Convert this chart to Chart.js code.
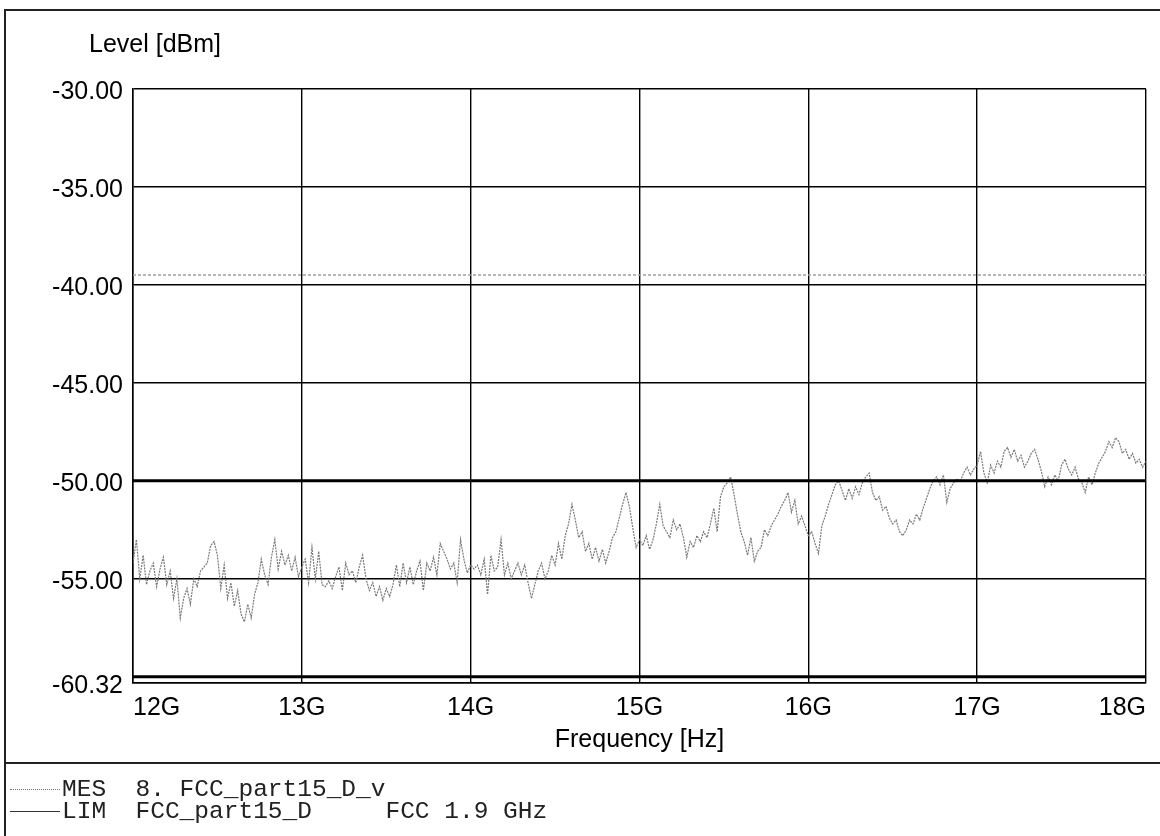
<!DOCTYPE html>
<html><head><meta charset="utf-8">
<script src="https://cdn.jsdelivr.net/npm/chart.js@4/dist/chart.umd.min.js"></script>
<style>
html,body{margin:0;padding:0;background:#fff;}
#wrap{position:relative;width:1160px;height:836px;overflow:hidden;background:#fff;}
#c{position:absolute;left:0;top:0;}
.ln{position:absolute;background:#222;}
.ytitle{position:absolute;left:89px;top:29px;font:25px 'Liberation Sans',Arial,sans-serif;color:#000;white-space:pre;}
.leg{position:absolute;font:24.5px 'Liberation Mono',monospace;color:#222;white-space:pre;line-height:24px;}
.samp{position:absolute;height:0;}
</style>
</head><body>
<div id="wrap">
<canvas id="c" width="1160" height="836"></canvas>
<div class="ln" style="left:5px;top:9px;width:1155px;height:2px;"></div>
<div class="ln" style="left:4px;top:9px;width:2px;height:827px;"></div>
<div class="ln" style="left:5px;top:762px;width:1155px;height:2px;"></div>
<div class="ytitle">Level [dBm]</div>
<div class="samp" style="left:10px;top:789px;width:50px;border-top:1px dotted #777;"></div>
<div class="samp" style="left:10px;top:811px;width:50px;border-top:1.5px solid #333;"></div>
<div class="leg" style="left:62px;top:778px;">MES  8. FCC_part15_D_v</div>
<div class="leg" style="left:62px;top:800px;">LIM  FCC_part15_D     FCC 1.9 GHz</div>
</div>
<script>
// Frequency sweep grid (GHz): 12.00 .. 18.00, 0.02 GHz spacing
const freqStartGHz = 12.0;
const freqStepGHz = 0.02;
const mesLevel = [
-54.2,-53.0,-55.0,-53.8,-55.3,-54.6,-54.2,-55.4,-54.5,-53.9,
-55.3,-54.6,-56.0,-55.0,-57.0,-56.0,-55.5,-56.3,-55.0,-55.4,
-54.6,-54.4,-54.2,-53.3,-53.1,-53.8,-55.5,-54.3,-56.0,-55.2,
-56.4,-55.6,-56.8,-57.2,-56.3,-57.0,-55.8,-55.2,-54.0,-54.8,
-55.3,-53.9,-53.0,-54.5,-53.6,-54.3,-53.8,-54.6,-53.9,-54.9,
-54.4,-54.0,-55.2,-53.4,-55.0,-53.6,-55.3,-55.4,-55.1,-55.5,
-54.9,-54.4,-55.6,-54.2,-54.8,-54.6,-55.2,-54.4,-53.8,-55.0,
-55.6,-55.2,-55.9,-55.4,-56.1,-55.5,-55.9,-55.3,-54.3,-55.4,
-54.2,-55.2,-54.4,-55.3,-54.6,-54.1,-55.6,-54.2,-54.6,-53.9,
-54.8,-53.2,-53.6,-54.0,-54.5,-54.2,-55.2,-53.0,-54.0,-54.7,
-54.3,-54.5,-54.3,-54.8,-54.0,-55.8,-53.8,-54.6,-54.4,-53.0,
-54.8,-54.2,-55.0,-54.6,-54.2,-54.8,-54.3,-55.2,-56.0,-55.3,
-54.6,-54.2,-55.0,-54.6,-53.8,-54.3,-53.2,-54.0,-52.8,-52.2,
-51.2,-52.0,-52.9,-52.6,-53.6,-53.2,-54.0,-53.4,-54.1,-53.5,
-54.2,-53.6,-52.9,-52.6,-51.9,-51.2,-50.6,-51.3,-52.4,-53.4,
-53.0,-53.3,-52.8,-53.5,-53.0,-52.2,-51.2,-52.3,-52.6,-52.9,
-52.0,-52.5,-52.2,-52.9,-53.9,-53.1,-53.4,-52.8,-53.1,-52.6,
-52.9,-52.2,-51.4,-52.6,-50.8,-50.3,-50.1,-49.8,-50.7,-51.7,
-52.6,-53.1,-53.8,-52.9,-54.1,-53.6,-53.4,-52.5,-52.8,-52.3,
-52.0,-51.7,-51.3,-51.0,-50.6,-51.6,-51.0,-52.2,-51.8,-52.3,
-52.8,-52.6,-53.2,-53.7,-52.3,-51.8,-51.2,-50.7,-50.2,-50.0,
-50.5,-51.0,-50.4,-50.9,-50.3,-50.7,-50.1,-49.8,-49.6,-50.6,
-51.0,-50.8,-51.5,-51.3,-51.9,-52.2,-52.0,-52.6,-52.8,-52.5,
-52.0,-52.2,-51.7,-52.0,-51.4,-50.9,-50.4,-50.0,-49.8,-50.2,
-49.7,-51.1,-50.4,-50.1,-49.9,-50.0,-49.6,-49.3,-49.7,-49.4,
-49.2,-48.5,-49.6,-50.1,-49.2,-49.6,-49.0,-49.3,-48.5,-48.3,
-48.8,-48.4,-49.0,-48.7,-49.3,-49.0,-48.6,-48.4,-48.9,-49.5,
-50.3,-49.8,-50.2,-49.7,-50.0,-49.2,-48.9,-49.4,-49.7,-49.3,
-49.9,-50.1,-50.6,-49.8,-50.2,-49.6,-49.1,-48.8,-48.5,-48.0,
-48.3,-47.8,-48.0,-48.6,-48.4,-48.9,-48.6,-49.1,-48.9,-49.3,
-49.0
];
// Limit line (dBm) at sweep ends
const limFreq = [12, 18];
const limLevel = [-50, -50];
const floorLevel = [-60, -60];
const upperTraceLevel = [-39.5, -39.5];
// Axis ticks
const yTicks = [-60.32, -55, -50, -45, -40, -35, -30];
const xTicks = [12, 13, 14, 15, 16, 17, 18];
const xTickLabels = ['12G', '13G', '14G', '15G', '16G', '17G', '18G'];

const freqGHz = [];
for (let i = 0; i < mesLevel.length; i++) freqGHz.push(+(freqStartGHz + i * freqStepGHz).toFixed(2));
const pts = (xs, ys) => xs.map((x, i) => ({x: x, y: ys[i]}));
const FONT = "'Liberation Sans', Arial, sans-serif";

new Chart(document.getElementById('c'), {
  type: 'line',
  data: {
    datasets: [
      {label: 'MES', data: pts(freqGHz, mesLevel), borderColor: '#7a7a7a', borderWidth: 1.2, borderDash: [2, 1], pointRadius: 0, tension: 0, order: 2},
      {label: 'LIM', data: pts(limFreq, limLevel), borderColor: '#000', borderWidth: 3, pointRadius: 0, order: 1},
      {label: 'floor', data: pts(limFreq, floorLevel), borderColor: '#000', borderWidth: 3, pointRadius: 0, order: 1},
      {label: 'upper', data: pts(limFreq, upperTraceLevel), borderColor: '#a0a0a0', borderWidth: 1.5, borderDash: [3, 2], pointRadius: 0, order: 3}
    ]
  },
  options: {
    responsive: false,
    animation: false,
    layout: {padding: {left: 0, top: 89, right: 14, bottom: 81}},
    plugins: {legend: {display: false}, tooltip: {enabled: false}, title: {display: false}},
    scales: {
      x: {
        type: 'linear', min: 12, max: 18,
        afterFit: s => { s.height = 72; },
        afterBuildTicks: s => { s.ticks = xTicks.map(v => ({value: v})); },
        grid: {color: '#000', lineWidth: 1.4, drawTicks: false},
        border: {color: '#000', width: 1.5},
        ticks: {
          align: 'inner', padding: 10, color: '#000', maxRotation: 0, autoSkip: false,
          font: {family: FONT, size: 25},
          callback: (v) => xTickLabels[xTicks.indexOf(v)]
        },
        title: {display: true, text: 'Frequency [Hz]', color: '#000', padding: {top: 0, bottom: 0},
          font: {family: FONT, size: 25}}
      },
      y: {
        min: -60.32, max: -30,
        afterFit: s => { s.width = 133; },
        afterBuildTicks: s => { s.ticks = yTicks.map(v => ({value: v})); },
        grid: {color: '#000', lineWidth: 1.4, drawTicks: false},
        border: {color: '#000', width: 1.5},
        ticks: {
          padding: 10, labelOffset: 3, color: '#000', autoSkip: false,
          font: {family: FONT, size: 25},
          callback: (v) => Number(v).toFixed(2)
        }
      }
    }
  }
});
</script>
</body></html>
